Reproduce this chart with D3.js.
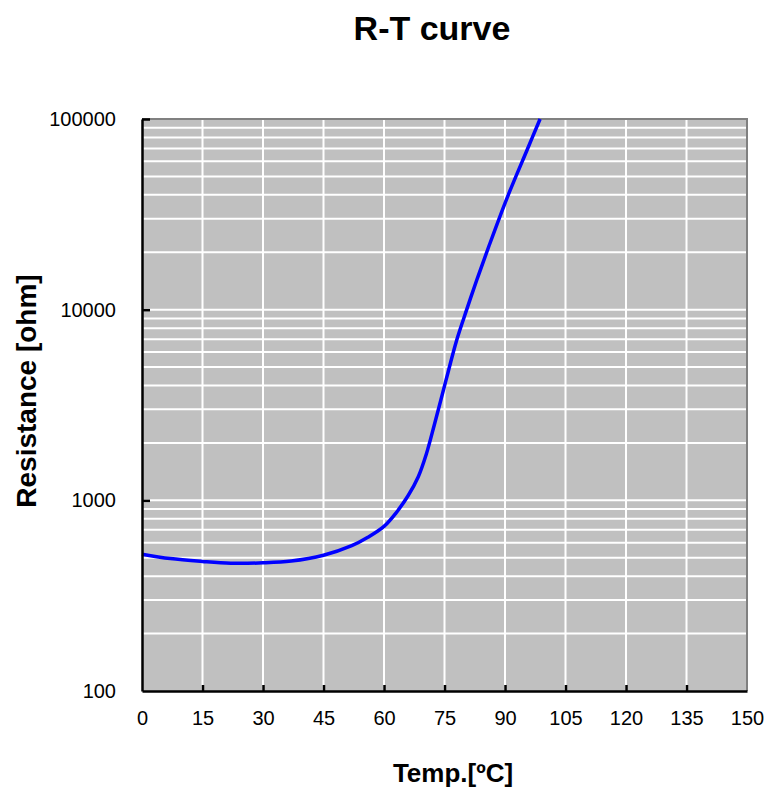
<!DOCTYPE html>
<html>
<head>
<meta charset="utf-8">
<script src="https://cdn.jsdelivr.net/npm/d3@7"></script>
<style>
  html, body { margin: 0; padding: 0; background: #fff; }
  text { font-family: "Liberation Sans", Arial, sans-serif; }
</style>
</head>
<body>
<div id="chart"></div>
<script>
// ── Data ──────────────────────────────────────────────────────────────────────
const temps      = [0, 7, 15, 22, 30, 37, 45, 52, 56, 60, 63, 66, 68.5, 70.5, 72.5, 74, 76, 78, 80.5, 83, 86, 90.5, 95.5, 98.7];
const resistance = [522, 495, 478, 468, 470, 480, 515, 578, 640, 730, 860, 1060, 1330, 1750, 2500, 3300, 4800, 6900, 10000, 14300, 21500, 38500, 69000, 100000];
const xTicks     = [0, 15, 30, 45, 60, 75, 90, 105, 120, 135, 150];
const yTicks     = [100, 1000, 10000, 100000];

const TITLE  = "R-T curve";
const XLABEL = "Temp.[ºC]";
const YLABEL = "Resistance [ohm]";

// ── Dimensions ────────────────────────────────────────────────────────────────
const W = 781, H = 790;
const plot = { left: 142, right: 747, top: 119, bottom: 691 };

const svg = d3.select("#chart").append("svg")
  .attr("width", W).attr("height", H);

// ── Scales ────────────────────────────────────────────────────────────────────
const x = d3.scaleLinear().domain([0, 150]).range([plot.left, plot.right]);
const y = d3.scaleLog().domain([100, 100000]).range([plot.bottom, plot.top]);

// background
svg.append("rect")
  .attr("x", plot.left).attr("y", plot.top)
  .attr("width", plot.right - plot.left).attr("height", plot.bottom - plot.top)
  .attr("fill", "#c0c0c0");

// grid: every minor log step + every 15 degrees
const yGrid = y.ticks().filter(v => v > 100);
svg.append("g").selectAll("line").data(yGrid).join("line")
  .attr("x1", plot.left).attr("x2", plot.right)
  .attr("y1", d => y(d)).attr("y2", d => y(d))
  .attr("stroke", "#fff").attr("stroke-width", 2);

svg.append("g").selectAll("line").data(xTicks.slice(1, -1)).join("line")
  .attr("x1", d => x(d)).attr("x2", d => x(d))
  .attr("y1", plot.top).attr("y2", plot.bottom)
  .attr("stroke", "#fff").attr("stroke-width", 2);

// frame: grey top/right, black axes
svg.append("path")
  .attr("d", `M${plot.left},${plot.top}H${plot.right}V${plot.bottom}`)
  .attr("fill", "none").attr("stroke", "#808080").attr("stroke-width", 2);

// ── Curve ─────────────────────────────────────────────────────────────────────
const pts = temps.map((t, i) => [t, resistance[i]]);
svg.append("path")
  .datum(pts)
  .attr("fill", "none")
  .attr("stroke", "#0000ff")
  .attr("stroke-width", 3.5)
  .attr("d", d3.line().x(d => x(d[0])).y(d => y(d[1])).curve(d3.curveCatmullRom.alpha(0.5)));

// ── Axes ──────────────────────────────────────────────────────────────────────
const xAxis = svg.append("g")
  .attr("transform", `translate(0,${plot.bottom})`)
  .call(d3.axisBottom(x).tickValues(xTicks).tickSizeInner(-6).tickSizeOuter(0).tickPadding(20));

const yAxis = svg.append("g")
  .attr("transform", `translate(${plot.left},0)`)
  .call(d3.axisLeft(y).tickValues(yTicks).tickFormat(d3.format("d"))
    .tickSizeInner(-8).tickSizeOuter(0).tickPadding(26));

[xAxis, yAxis].forEach(g => {
  g.select(".domain").attr("stroke", "#000").attr("stroke-width", 2.5);
  g.selectAll(".tick line").attr("stroke", "#000").attr("stroke-width", 2.5);
  g.selectAll(".tick text")
    .attr("fill", "#000")
    .style("font-family", "'Liberation Sans', Arial, sans-serif")
    .style("font-size", "20px");
});
xAxis.selectAll(".tick text").attr("dy", "0.71em");
// hide tick marks at ends that sit on the frame
xAxis.selectAll(".tick line").filter(d => d === 0 || d === 150).remove();
yAxis.selectAll(".tick line").filter(d => d === 100).remove();

// ── Labels ────────────────────────────────────────────────────────────────────
svg.append("text")
  .attr("x", 432).attr("y", 40)
  .attr("text-anchor", "middle")
  .style("font-size", "34px").style("font-weight", "bold")
  .text(TITLE);

svg.append("text")
  .attr("x", 453).attr("y", 782)
  .attr("text-anchor", "middle")
  .style("font-size", "26px").style("font-weight", "bold")
  .text(XLABEL);

svg.append("text")
  .attr("transform", "translate(36,391) rotate(-90)")
  .attr("text-anchor", "middle")
  .style("font-size", "28px").style("font-weight", "bold")
  .text(YLABEL);
</script>
</body>
</html>
